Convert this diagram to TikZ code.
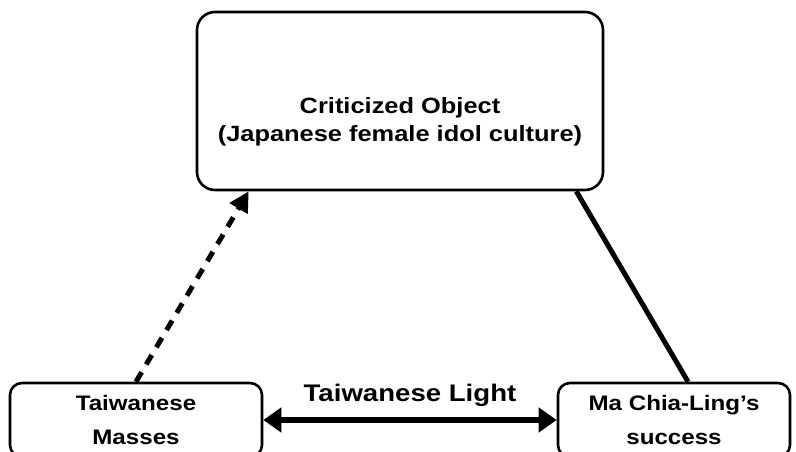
\documentclass[tikz,border=0pt]{standalone}
\usepackage{fontspec}
\setmainfont[FakeStretch=1.15]{Liberation Sans}
\usetikzlibrary{arrows.meta,calc}
\begin{document}
\begin{tikzpicture}[x=1pt,y=-1pt,
  box/.style={draw,line width=2.6pt,rounded corners=#1,align=center,inner sep=0pt,font=\bfseries\fontsize{21}{34}\selectfont},
  box/.default=12pt]
\clip (0,0) rectangle (796,452);
\useasboundingbox (0,0) rectangle (796,452);
\node[box=18pt,minimum width=406pt,minimum height=178pt] (tb) at (400,101) {};
\node[align=center,font=\bfseries\fontsize{22.1}{28}\selectfont] (tt) at ($(tb.center)+(0,21)$)
  {Criticized Object\\(Japanese female idol culture)};
\node[box,minimum width=252pt,minimum height=74pt] (lb) at (136,420) {Taiwanese\\Masses};
\node[box,minimum width=232pt,minimum height=74pt] (rb) at (674,420) {Ma Chia-Ling’s\\success};
\coordinate (tl) at ([xshift=53pt]tb.south west);
\coordinate (tr) at ([xshift=-28pt]tb.south east);
\coordinate (rt) at ([xshift=14pt]rb.north);
\draw[line width=5pt,dash pattern=on 11pt off 9pt,-{Triangle[length=20pt,width=20pt]}] (lb.north) -- (tl);
\draw[line width=5pt] (tr) -- (rt);
\draw[line width=6pt,{Triangle[length=18pt,width=24pt]}-{Triangle[length=18pt,width=24pt]}] (lb.east) -- node[above=7pt,font=\bfseries\fontsize{24}{26}\selectfont] (lab) {Taiwanese Light} (rb.west);
\end{tikzpicture}
\end{document}
